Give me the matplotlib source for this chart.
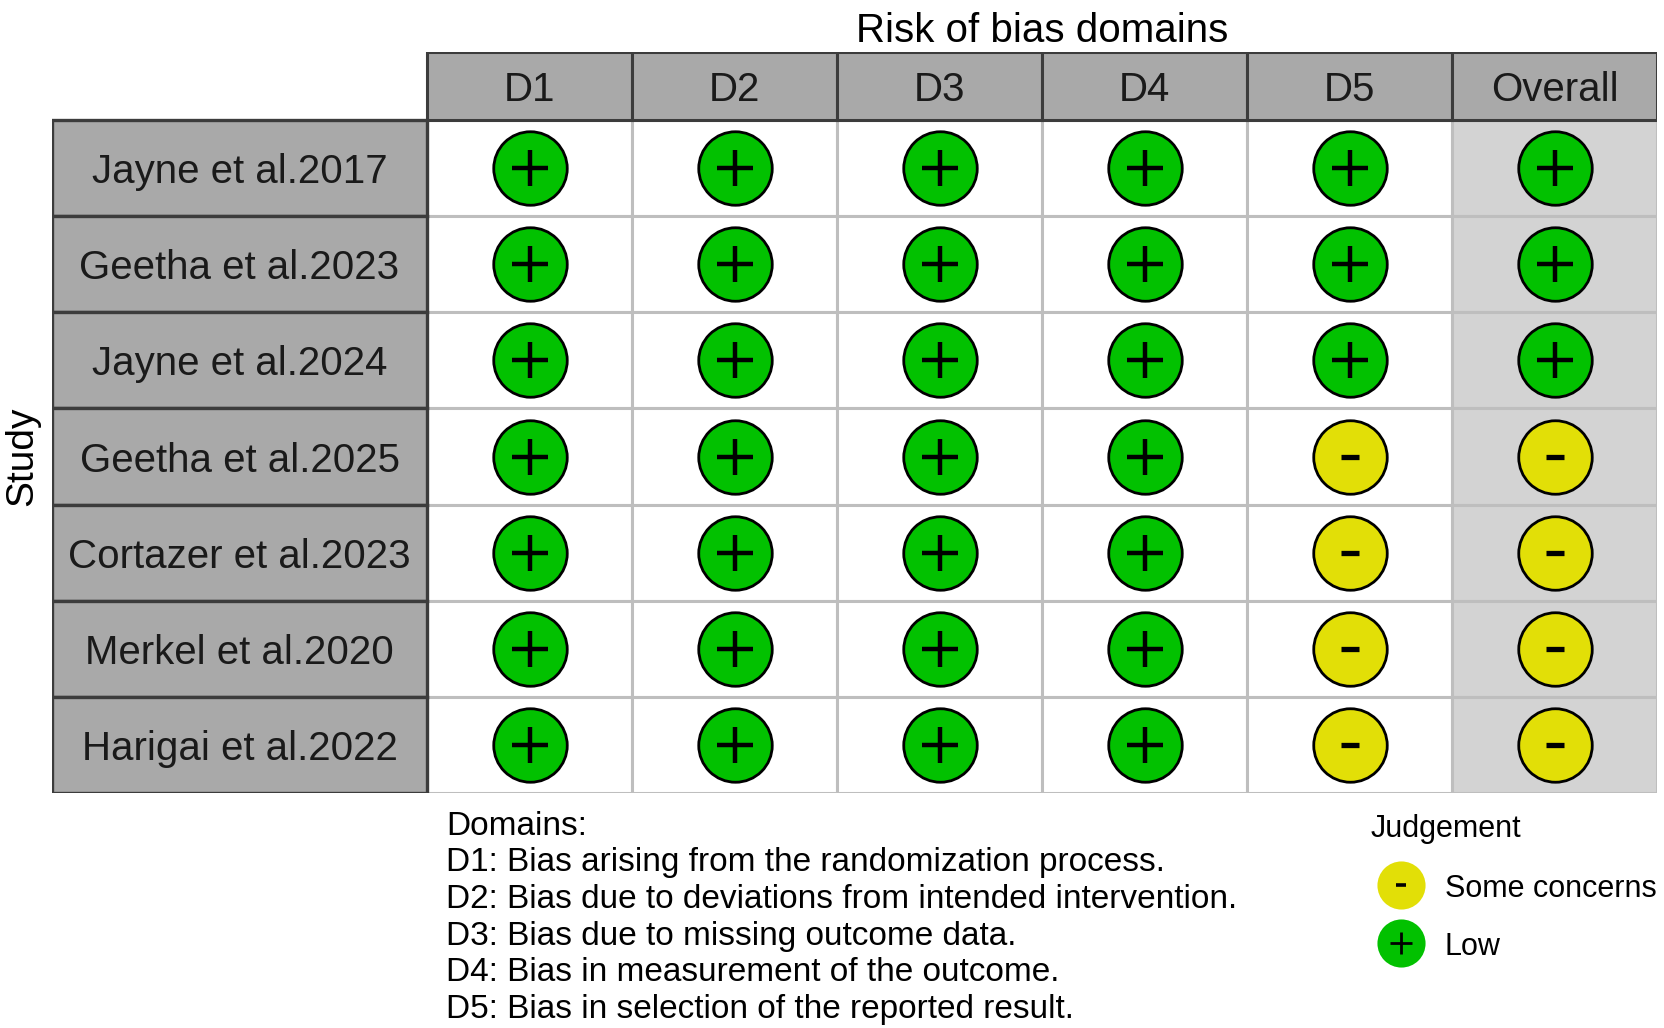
import matplotlib
matplotlib.use("Agg")
import matplotlib.pyplot as plt
from matplotlib.patches import Rectangle

plt.rcParams['font.family'] = ['Liberation Sans', 'DejaVu Sans']

# ---- data ----
studies = ["Jayne et al.2017", "Geetha et al.2023", "Jayne et al.2024",
           "Geetha et al.2025", "Cortazer et al.2023", "Merkel et al.2020",
           "Harigai et al.2022"]
domains = ["D1", "D2", "D3", "D4", "D5", "Overall"]
D1 = ["Low", "Low", "Low", "Low", "Low", "Low", "Low"]
D2 = ["Low", "Low", "Low", "Low", "Low", "Low", "Low"]
D3 = ["Low", "Low", "Low", "Low", "Low", "Low", "Low"]
D4 = ["Low", "Low", "Low", "Low", "Low", "Low", "Low"]
D5 = ["Low", "Low", "Low", "Some concerns", "Some concerns", "Some concerns", "Some concerns"]
Overall = ["Low", "Low", "Low", "Some concerns", "Some concerns", "Some concerns", "Some concerns"]
judgements = [D1, D2, D3, D4, D5, Overall]
domain_notes = ["D1: Bias arising from the randomization process.",
                "D2: Bias due to deviations from intended intervention.",
                "D3: Bias due to missing outcome data.",
                "D4: Bias in measurement of the outcome.",
                "D5: Bias in selection of the reported result."]
legend_levels = ["Some concerns", "Low"]

colours = {"Low": "#02C100", "Some concerns": "#E2DF07"}
symbols = {"Low": "+", "Some concerns": "_"}

W, H = 1665, 1028
fig = plt.figure(figsize=(W / 100, H / 100), dpi=100)

# grid layout in pixels
left, right, top, bottom = 52, 1657, 52, 793
row_top = 120
col_w = (right - 427) / len(domains)
row_h = (bottom - row_top) / len(studies)
lab_w = (427 - left) / col_w
hdr_h = (row_top - top) / row_h

# grid axes: x in column units, y in row units (label column / header row at negative coords)
ax = fig.add_axes([left / W, 1 - bottom / H, (right - left) / W, (bottom - top) / H])
ax.set_xlim(-lab_w, len(domains))
ax.set_ylim(len(studies), -hdr_h)
ax.axis("off")

hdr_col = "#A9A9A9"
dark = "#3C3C3C"
txt_dy = 4 / row_h

# cells
for j, dom in enumerate(domains):
    bg = "#D3D3D3" if dom == "Overall" else "white"
    for i in range(len(studies)):
        ax.add_patch(Rectangle((j, i), 1, 1, fc=bg, ec="#BEBEBE", lw=2.2, zorder=1))
    ax.add_patch(Rectangle((j, -hdr_h), 1, hdr_h, fc=hdr_col, ec=dark, lw=2.2, zorder=2))
    ax.text(j + 0.5, -hdr_h / 2 + txt_dy, dom, ha="center", va="center", fontsize=29,
            color="#1a1a1a", zorder=3)

for i, s in enumerate(studies):
    ax.add_patch(Rectangle((-lab_w, i), lab_w, 1, fc=hdr_col, ec=dark, lw=2.4, zorder=2))
    ax.text(-lab_w / 2, i + 0.5 + txt_dy, s, ha="center", va="center", fontsize=29,
            color="#1a1a1a", zorder=3)

# judgement marks
for j, col in enumerate(judgements):
    for i, v in enumerate(col):
        ax.scatter(j + 0.5, i + 0.5, s=2800, c=colours[v], edgecolors="black", linewidths=2.0, zorder=4)
        if symbols[v] == "+":
            ax.scatter(j + 0.5, i + 0.5, s=680, marker="+", c="black", linewidths=3.2, zorder=5)
        else:
            ax.scatter(j + 0.5, i + 0.5, s=160, marker="_", c="black", linewidths=3.8, zorder=5)

ax.text(len(domains) / 2, -hdr_h - 10 / row_h, "Risk of bias domains", ha="center", va="baseline", fontsize=29)
ax.text(-lab_w - 30 / col_w, len(studies) / 2, "Study", ha="center", va="center", rotation=90, fontsize=28)

# overlay in pixel coords for notes and legend
ov = fig.add_axes([0, 0, 1, 1])
ov.set_xlim(0, W)
ov.set_ylim(H, 0)
ov.axis("off")

ov.text(446, 835, "Domains:", fontsize=24, va="baseline")
for k, note in enumerate(domain_notes):
    ov.text(446, 871 + k * 36.8, note, fontsize=24, va="baseline")

ov.text(1371, 837, "Judgement", fontsize=22, va="baseline")
for k, lev in enumerate(legend_levels):
    y = 885 + k * 58
    ov.scatter(1401, y, s=1200, c=colours[lev], linewidths=0)
    if symbols[lev] == "+":
        ov.scatter(1401, y, s=260, marker="+", c="black", linewidths=2.0)
    else:
        ov.scatter(1401, y, s=60, marker="_", c="black", linewidths=2.6)
    ov.text(1445, y + 12, lev, fontsize=22, va="baseline")

fig.savefig("out.png", dpi=100, facecolor="white")
